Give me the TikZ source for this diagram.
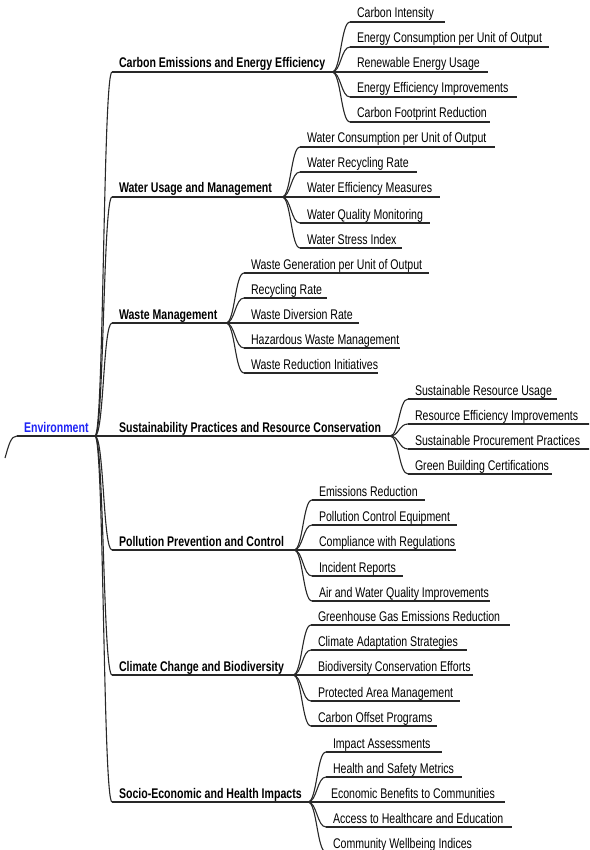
\documentclass[tikz,border=0pt]{standalone}
\usepackage{fontspec}
\setmainfont{Liberation Sans}[FakeStretch=0.755]
\definecolor{rootblue}{RGB}{30,35,245}
\definecolor{linegray}{RGB}{40,40,40}
\tikzset{
  mmnode/.style={anchor=south west, inner xsep=0pt, inner ysep=4pt, outer sep=0pt,
    text depth=0pt, font=\fontsize{14}{16}\selectfont},
  rootnode/.style={mmnode, font=\fontsize{14}{16}\selectfont\bfseries, text=rootblue},
  branchnode/.style={mmnode, font=\fontsize{14}{16}\selectfont\bfseries},
  leafnode/.style={mmnode},
  uline/.style={draw=linegray, line width=1.1pt},
  link/.style={draw=linegray, line width=1.1pt},
}
% #1 style, #2 name, #3 left x, #4 underline y, #5 right x, #6 label
\newcommand\mmitem[6]{%
  \node[#1] (#2) at (#3,#4) {\makebox[\dimexpr#5pt-#3pt\relax][l]{\hspace*{7pt}#6}};
  \draw[uline] (#2.south west) -- (#2.south east);}
% curved connector from the end of a parent's underline to the start of a child's
\newcommand\mmlink[2]{\draw[link] (#1.south east) .. controls +(9,0) and +(-9,0) .. (#2.south west);}
\begin{document}
\begin{tikzpicture}[x=1pt,y=-1pt]
\useasboundingbox (0,0) rectangle (589,850);
\clip (0,0) rectangle (589,850);

% root
\mmitem{rootnode}{env}{17}{436}{95}{Environment}
\coordinate (envin) at (5,458);
\draw[link] (env.south west) .. controls (11,436) and (9,444) .. (envin);

% branches
\mmitem{branchnode}{b1}{112}{72}{332}{Carbon Emissions and Energy Efficiency}
\mmitem{branchnode}{b2}{112}{197}{282}{Water Usage and Management}
\mmitem{branchnode}{b3}{112}{323}{226}{Waste Management}
\mmitem{branchnode}{b4}{112}{436}{390}{Sustainability Practices and Resource Conservation}
\mmitem{branchnode}{b5}{112}{550}{294}{Pollution Prevention and Control}
\mmitem{branchnode}{b6}{112}{675}{293}{Climate Change and Biodiversity}
\mmitem{branchnode}{b7}{112}{802}{308}{Socio-Economic and Health Impacts}
\foreach \b in {b1,b2,b3,b4,b5,b6,b7}{\mmlink{env}{\b}}

% Carbon Emissions and Energy Efficiency
\mmitem{leafnode}{l11}{350}{22}{445}{Carbon Intensity}
\mmitem{leafnode}{l12}{350}{47}{549}{Energy Consumption per Unit of Output}
\mmitem{leafnode}{l13}{350}{72}{488}{Renewable Energy Usage}
\mmitem{leafnode}{l14}{350}{97}{517}{Energy Efficiency Improvements}
\mmitem{leafnode}{l15}{350}{122}{490}{Carbon Footprint Reduction}
\foreach \l in {l11,l12,l13,l14,l15}{\mmlink{b1}{\l}}

% Water Usage and Management
\mmitem{leafnode}{l21}{300}{147}{495}{Water Consumption per Unit of Output}
\mmitem{leafnode}{l22}{300}{172}{417}{Water Recycling Rate}
\mmitem{leafnode}{l23}{300}{197}{440}{Water Efficiency Measures}
\mmitem{leafnode}{l24}{300}{223}{430}{Water Quality Monitoring}
\mmitem{leafnode}{l25}{300}{248}{402}{Water Stress Index}
\foreach \l in {l21,l22,l23,l24,l25}{\mmlink{b2}{\l}}

% Waste Management
\mmitem{leafnode}{l31}{244}{273}{429}{Waste Generation per Unit of Output}
\mmitem{leafnode}{l32}{244}{298}{327}{Recycling Rate}
\mmitem{leafnode}{l33}{244}{323}{359}{Waste Diversion Rate}
\mmitem{leafnode}{l34}{244}{348}{400}{Hazardous Waste Management}
\mmitem{leafnode}{l35}{244}{373}{378}{Waste Reduction Initiatives}
\foreach \l in {l31,l32,l33,l34,l35}{\mmlink{b3}{\l}}

% Sustainability Practices and Resource Conservation
\mmitem{leafnode}{l41}{408}{399}{557}{Sustainable Resource Usage}
\mmitem{leafnode}{l42}{408}{424}{595}{Resource Efficiency Improvements}
\mmitem{leafnode}{l43}{408}{449}{595}{Sustainable Procurement Practices}
\mmitem{leafnode}{l44}{408}{474}{552}{Green Building Certifications}
\foreach \l in {l41,l42,l43,l44}{\mmlink{b4}{\l}}

% Pollution Prevention and Control
\mmitem{leafnode}{l51}{312}{500}{425}{Emissions Reduction}
\mmitem{leafnode}{l52}{312}{525}{457}{Pollution Control Equipment}
\mmitem{leafnode}{l53}{312}{550}{456}{Compliance with Regulations}
\mmitem{leafnode}{l54}{312}{576}{403}{Incident Reports}
\mmitem{leafnode}{l55}{312}{601}{490}{Air and Water Quality Improvements}
\foreach \l in {l51,l52,l53,l54,l55}{\mmlink{b5}{\l}}

% Climate Change and Biodiversity
\mmitem{leafnode}{l61}{311}{625}{510}{Greenhouse Gas Emissions Reduction}
\mmitem{leafnode}{l62}{311}{650}{467}{Climate Adaptation Strategies}
\mmitem{leafnode}{l63}{311}{675}{473}{Biodiversity Conservation Efforts}
\mmitem{leafnode}{l64}{311}{701}{460}{Protected Area Management}
\mmitem{leafnode}{l65}{311}{726}{437}{Carbon Offset Programs}
\foreach \l in {l61,l62,l63,l64,l65}{\mmlink{b6}{\l}}

% Socio-Economic and Health Impacts
\mmitem{leafnode}{l71}{326}{752}{442}{Impact Assessments}
\mmitem{leafnode}{l72}{326}{777}{462}{Health and Safety Metrics}
\mmitem{leafnode}{l73}{324}{802}{505}{Economic Benefits to Communities}
\mmitem{leafnode}{l74}{326}{827}{512}{Access to Healthcare and Education}
\mmitem{leafnode}{l75}{326}{852}{478}{Community Wellbeing Indices}
\foreach \l in {l71,l72,l73,l74,l75}{\mmlink{b7}{\l}}
\end{tikzpicture}
\end{document}
